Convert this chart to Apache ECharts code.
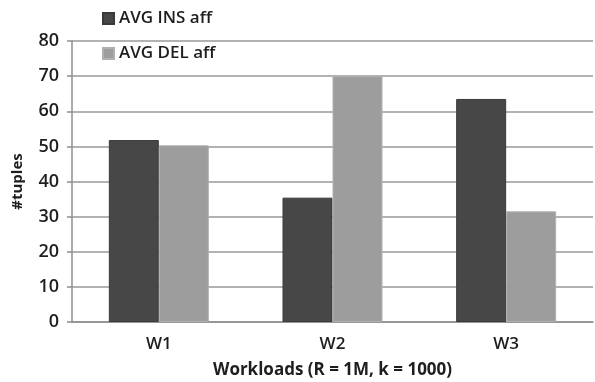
<!DOCTYPE html>
<html>
<head>
<meta charset="utf-8">
<script src="https://cdn.jsdelivr.net/npm/echarts@6/dist/echarts.min.js"></script>
<style>
  html, body { margin: 0; padding: 0; background: #ffffff; }
  #chart { width: 595px; height: 382px; }
</style>
</head>
<body>
<div id="chart"></div>
<script>
// Workload categories and average affected tuples per workload
const categories = ['W1', 'W2', 'W3'];
const avgInsAff = [51.8, 35.4, 63.5];
const avgDelAff = [50.3, 70, 31.5];
const yTicks = { min: 0, max: 80, interval: 10 };

const FONT = '"Open Sans", "DejaVu Sans", sans-serif';

const chart = echarts.init(document.getElementById('chart'));
chart.setOption({
  backgroundColor: '#ffffff',
  animation: false,
  legend: {
    orient: 'vertical',
    left: 97,
    top: 5,
    itemWidth: 11,
    itemHeight: 11,
    itemGap: 18,
    icon: 'rect',
    textStyle: { fontFamily: FONT, fontSize: 17, fontWeight: 600, color: '#1e1e1e' },
    data: ['AVG INS aff', 'AVG DEL aff']
  },
  grid: { left: 72, right: 2, top: 41, bottom: 60, containLabel: false, outerBoundsMode: 'none' },
  xAxis: {
    type: 'category',
    data: categories,
    name: 'Workloads (R = 1M, k = 1000)',
    nameLocation: 'middle',
    nameGap: 40,
    nameTextStyle: { fontFamily: FONT, fontSize: 17, fontWeight: 'bold', color: '#1e1e1e' },
    axisLine: { lineStyle: { color: '#8f8f8f', width: 1.5 } },
    axisTick: { show: false },
    axisLabel: { fontFamily: FONT, fontSize: 17, fontWeight: 600, color: '#1e1e1e', margin: 14 }
  },
  yAxis: {
    type: 'value',
    min: yTicks.min,
    max: yTicks.max,
    interval: yTicks.interval,
    name: '#tuples',
    nameLocation: 'middle',
    nameGap: 47,
    nameRotate: 90,
    nameTextStyle: { fontFamily: FONT, fontSize: 15, fontWeight: 'bold', color: '#1e1e1e' },
    axisLine: { show: true, lineStyle: { color: '#8f8f8f', width: 1.5 } },
    axisTick: { show: true, length: 5, lineStyle: { color: '#8f8f8f', width: 1.5 } },
    axisLabel: { fontFamily: FONT, fontSize: 18, fontWeight: 600, color: '#1e1e1e', margin: 13 },
    splitLine: { lineStyle: { color: '#999999', width: 1.5 } }
  },
  series: [
    {
      name: 'AVG INS aff',
      type: 'bar',
      data: avgInsAff,
      barWidth: 50,
      barGap: '0%',
      itemStyle: { color: '#474747', borderColor: '#3a3a3a', borderWidth: 1 }
    },
    {
      name: 'AVG DEL aff',
      type: 'bar',
      data: avgDelAff,
      barWidth: 50,
      barGap: '0%',
      itemStyle: { color: '#9d9d9d', borderColor: '#b0b0b0', borderWidth: 1 }
    }
  ]
});
</script>
</body>
</html>
